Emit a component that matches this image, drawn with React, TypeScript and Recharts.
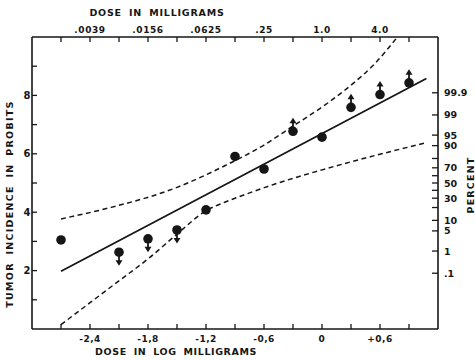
import { ComposedChart, Line, Scatter, XAxis, YAxis } from "recharts";

// dose (log mg) against tumor incidence in probits
const logDose = [-2.7, -2.1, -1.8, -1.5, -1.2, -0.9, -0.6, -0.3, 0, 0.3, 0.6, 0.9];
const probit = [3.05, 2.63, 3.09, 3.39, 4.08, 5.91, 5.48, 6.77, 6.57, 7.59, 8.03, 8.43];
// censored responses: -1 true value lies lower, 1 lies higher
const censor = [0, -1, -1, -1, 0, 0, 0, 1, 0, 1, 1, 1];

// fitted probit line
const fitX = [-2.7, 1.08];
const fitY = [1.98, 8.58];

// fiducial limits
const upperX = [-2.7, -2.2, -1.5, -1.0, -0.6, -0.3, 0, 0.3, 0.55, 0.78];
const upperY = [3.77, 4.15, 4.85, 5.6, 6.3, 6.95, 7.6, 8.35, 9.1, 10.0];
const lowerX = [-2.7, -2.4, -2.1, -1.8, -1.5, -1.2, -1.0, -0.8, -0.5, 0, 0.5, 1.07];
const lowerY = [0.15, 0.9, 1.65, 2.4, 3.25, 4.05, 4.35, 4.6, 4.95, 5.45, 5.9, 6.37];

const logTicks = [-2.7, -2.4, -2.1, -1.8, -1.5, -1.2, -0.9, -0.6, -0.3, 0, 0.3, 0.6, 0.9];
const logLabels = ["", "-2,4", "", "-1,8", "", "-1,2", "", "-0,6", "", "0", "", "+0,6", ""];
const mgLabels = ["", ".0039", "", ".0156", "", ".0625", "", ".25", "", "1.0", "", "4.0", ""];

const probitTicks = [1, 2, 3, 4, 5, 6, 7, 8, 9];
const probitLabels = ["", "2", "", "4", "", "6", "", "8", ""];

const pctTicks = [8.09, 7.33, 6.64, 6.28, 5.84, 5.52, 5.25, 5.0, 4.75, 4.48, 4.16, 3.72, 3.36, 2.67, 1.91];
const pctLabels = ["99.9", "99", "95", "90", "", "70", "", "50", "", "30", "", "10", "5", "1", ".1"];

const points = logDose.map((x, i) => ({ x, y: probit[i], c: censor[i] }));
const fit = fitX.map((x, i) => ({ x, y: fitY[i] }));
const upper = upperX.map((x, i) => ({ x, y: upperY[i] }));
const lower = lowerX.map((x, i) => ({ x, y: lowerY[i] }));

const INK = "#161616";
const font = { fontFamily: "DejaVu Sans", fontWeight: 700, fontSize: 9, fill: INK };

const labelAt = (ticks: number[], labels: string[], v: number) => {
  const i = ticks.findIndex((t) => Math.abs(t - v) < 1e-6);
  return i >= 0 ? labels[i] : "";
};

const BottomTick = ({ x, y, payload }: any) => (
  <g>
    <line x1={x} x2={x} y1={y} y2={y - 5} stroke={INK} strokeWidth={1.3} />
    <text x={x} y={y + 12.5} textAnchor="middle" style={{ ...font, letterSpacing: 0.5 }}>
      {labelAt(logTicks, logLabels, payload.value)}
    </text>
  </g>
);

const TopTick = ({ x, y, payload }: any) => (
  <g>
    <line x1={x} x2={x} y1={y} y2={y + 5} stroke={INK} strokeWidth={1.3} />
    <text x={x} y={y - 4} textAnchor="middle" style={{ ...font, letterSpacing: 0.6 }}>
      {labelAt(logTicks, mgLabels, payload.value)}
    </text>
  </g>
);

const LeftTick = ({ x, y, payload }: any) => (
  <g>
    <line x1={x} x2={x + 5} y1={y} y2={y} stroke={INK} strokeWidth={1.3} />
    <text x={x - 5} y={y + 3.5} textAnchor="middle" style={{ ...font, fontSize: 10 }}>
      {labelAt(probitTicks, probitLabels, payload.value)}
    </text>
  </g>
);

const RightTick = ({ x, y, payload }: any) => (
  <g>
    <line x1={x} x2={x - 6} y1={y} y2={y} stroke={INK} strokeWidth={1.3} />
    <text x={x + 6} y={y + 3.5} textAnchor="start" style={{ ...font, fontSize: 9.5 }}>
      {labelAt(pctTicks, pctLabels, payload.value)}
    </text>
  </g>
);

// filled dot, with an arrow for responses beyond the observed value
const Marker = ({ cx, cy, payload }: any) => {
  const d = -payload.c; // screen y grows downward
  return (
    <g>
      <circle cx={cx} cy={cy} r={4.8} fill={INK} />
      {d !== 0 && (
        <g>
          <line x1={cx} x2={cx} y1={cy} y2={cy + d * 10} stroke={INK} strokeWidth={1.8} />
          <polygon
            points={`${cx - 3.5},${cy + d * 8} ${cx + 3.5},${cy + d * 8} ${cx},${cy + d * 13.5}`}
            fill={INK}
          />
        </g>
      )}
    </g>
  );
};

const title: any = {
  position: "absolute",
  fontFamily: "DejaVu Sans",
  fontWeight: 700,
  fontSize: 9.5,
  color: INK,
  whiteSpace: "nowrap",
  lineHeight: 1,
  wordSpacing: 3,
};

const axisLine = { stroke: INK, strokeWidth: 1.6 };

export default function App() {
  return (
    <div style={{ position: "absolute", left: 0, top: 0, width: 475, height: 360, background: "#fff" }}>
      <ComposedChart width={475} height={360} margin={{ top: 0, right: 0, bottom: 0, left: 0 }}>
        <XAxis
          xAxisId="log"
          dataKey="x"
          type="number"
          orientation="bottom"
          domain={[-3, 1.2]}
          ticks={logTicks}
          height={31}
          tickSize={0}
          tickMargin={0}
          tickLine={false}
          axisLine={axisLine}
          tick={BottomTick}
          interval={0}
          allowDataOverflow
        />
        <XAxis
          xAxisId="mg"
          dataKey="x"
          type="number"
          orientation="top"
          domain={[-3, 1.2]}
          ticks={logTicks}
          height={37}
          tickSize={0}
          tickMargin={0}
          tickLine={false}
          axisLine={axisLine}
          tick={TopTick}
          interval={0}
          allowDataOverflow
        />
        <YAxis
          yAxisId="probit"
          type="number"
          domain={[0, 10]}
          ticks={probitTicks}
          width={32}
          tickSize={0}
          tickMargin={0}
          tickLine={false}
          axisLine={axisLine}
          tick={LeftTick}
          interval={0}
          allowDataOverflow
        />
        <YAxis
          yAxisId="pct"
          orientation="right"
          type="number"
          domain={[0, 10]}
          ticks={pctTicks}
          width={37}
          tickSize={0}
          tickMargin={0}
          tickLine={false}
          axisLine={axisLine}
          tick={RightTick}
          interval={0}
          allowDataOverflow
        />
        <Line
          data={upper}
          xAxisId="log"
          yAxisId="probit"
          dataKey="y"
          type="monotone"
          stroke={INK}
          strokeWidth={1.5}
          strokeDasharray="5 3.5"
          dot={false}
          activeDot={false}
          isAnimationActive={false}
        />
        <Line
          data={lower}
          xAxisId="log"
          yAxisId="probit"
          dataKey="y"
          type="monotone"
          stroke={INK}
          strokeWidth={1.5}
          strokeDasharray="5 3.5"
          dot={false}
          activeDot={false}
          isAnimationActive={false}
        />
        <Line
          data={fit}
          xAxisId="log"
          yAxisId="probit"
          dataKey="y"
          type="linear"
          stroke={INK}
          strokeWidth={1.8}
          dot={false}
          activeDot={false}
          isAnimationActive={false}
        />
        <Scatter
          data={points}
          xAxisId="log"
          yAxisId="probit"
          dataKey="y"
          shape={Marker}
          isAnimationActive={false}
        />
      </ComposedChart>
      <div style={{ ...title, left: 157, top: 12.5, transform: "translate(-50%, -50%)", letterSpacing: 0.8 }}>
        DOSE IN MILLIGRAMS
      </div>
      <div style={{ ...title, left: 176, top: 352, transform: "translate(-50%, -50%)", letterSpacing: 0.6 }}>
        DOSE IN LOG MILLIGRAMS
      </div>
      <div
        style={{ ...title, left: 10, top: 204, transform: "translate(-50%, -50%) rotate(-90deg)", letterSpacing: 1.3 }}
      >
        TUMOR INCIDENCE IN PROBITS
      </div>
      <div
        style={{ ...title, left: 471, top: 185, transform: "translate(-50%, -50%) rotate(-90deg)", letterSpacing: 1.2 }}
      >
        PERCENT
      </div>
    </div>
  );
}
